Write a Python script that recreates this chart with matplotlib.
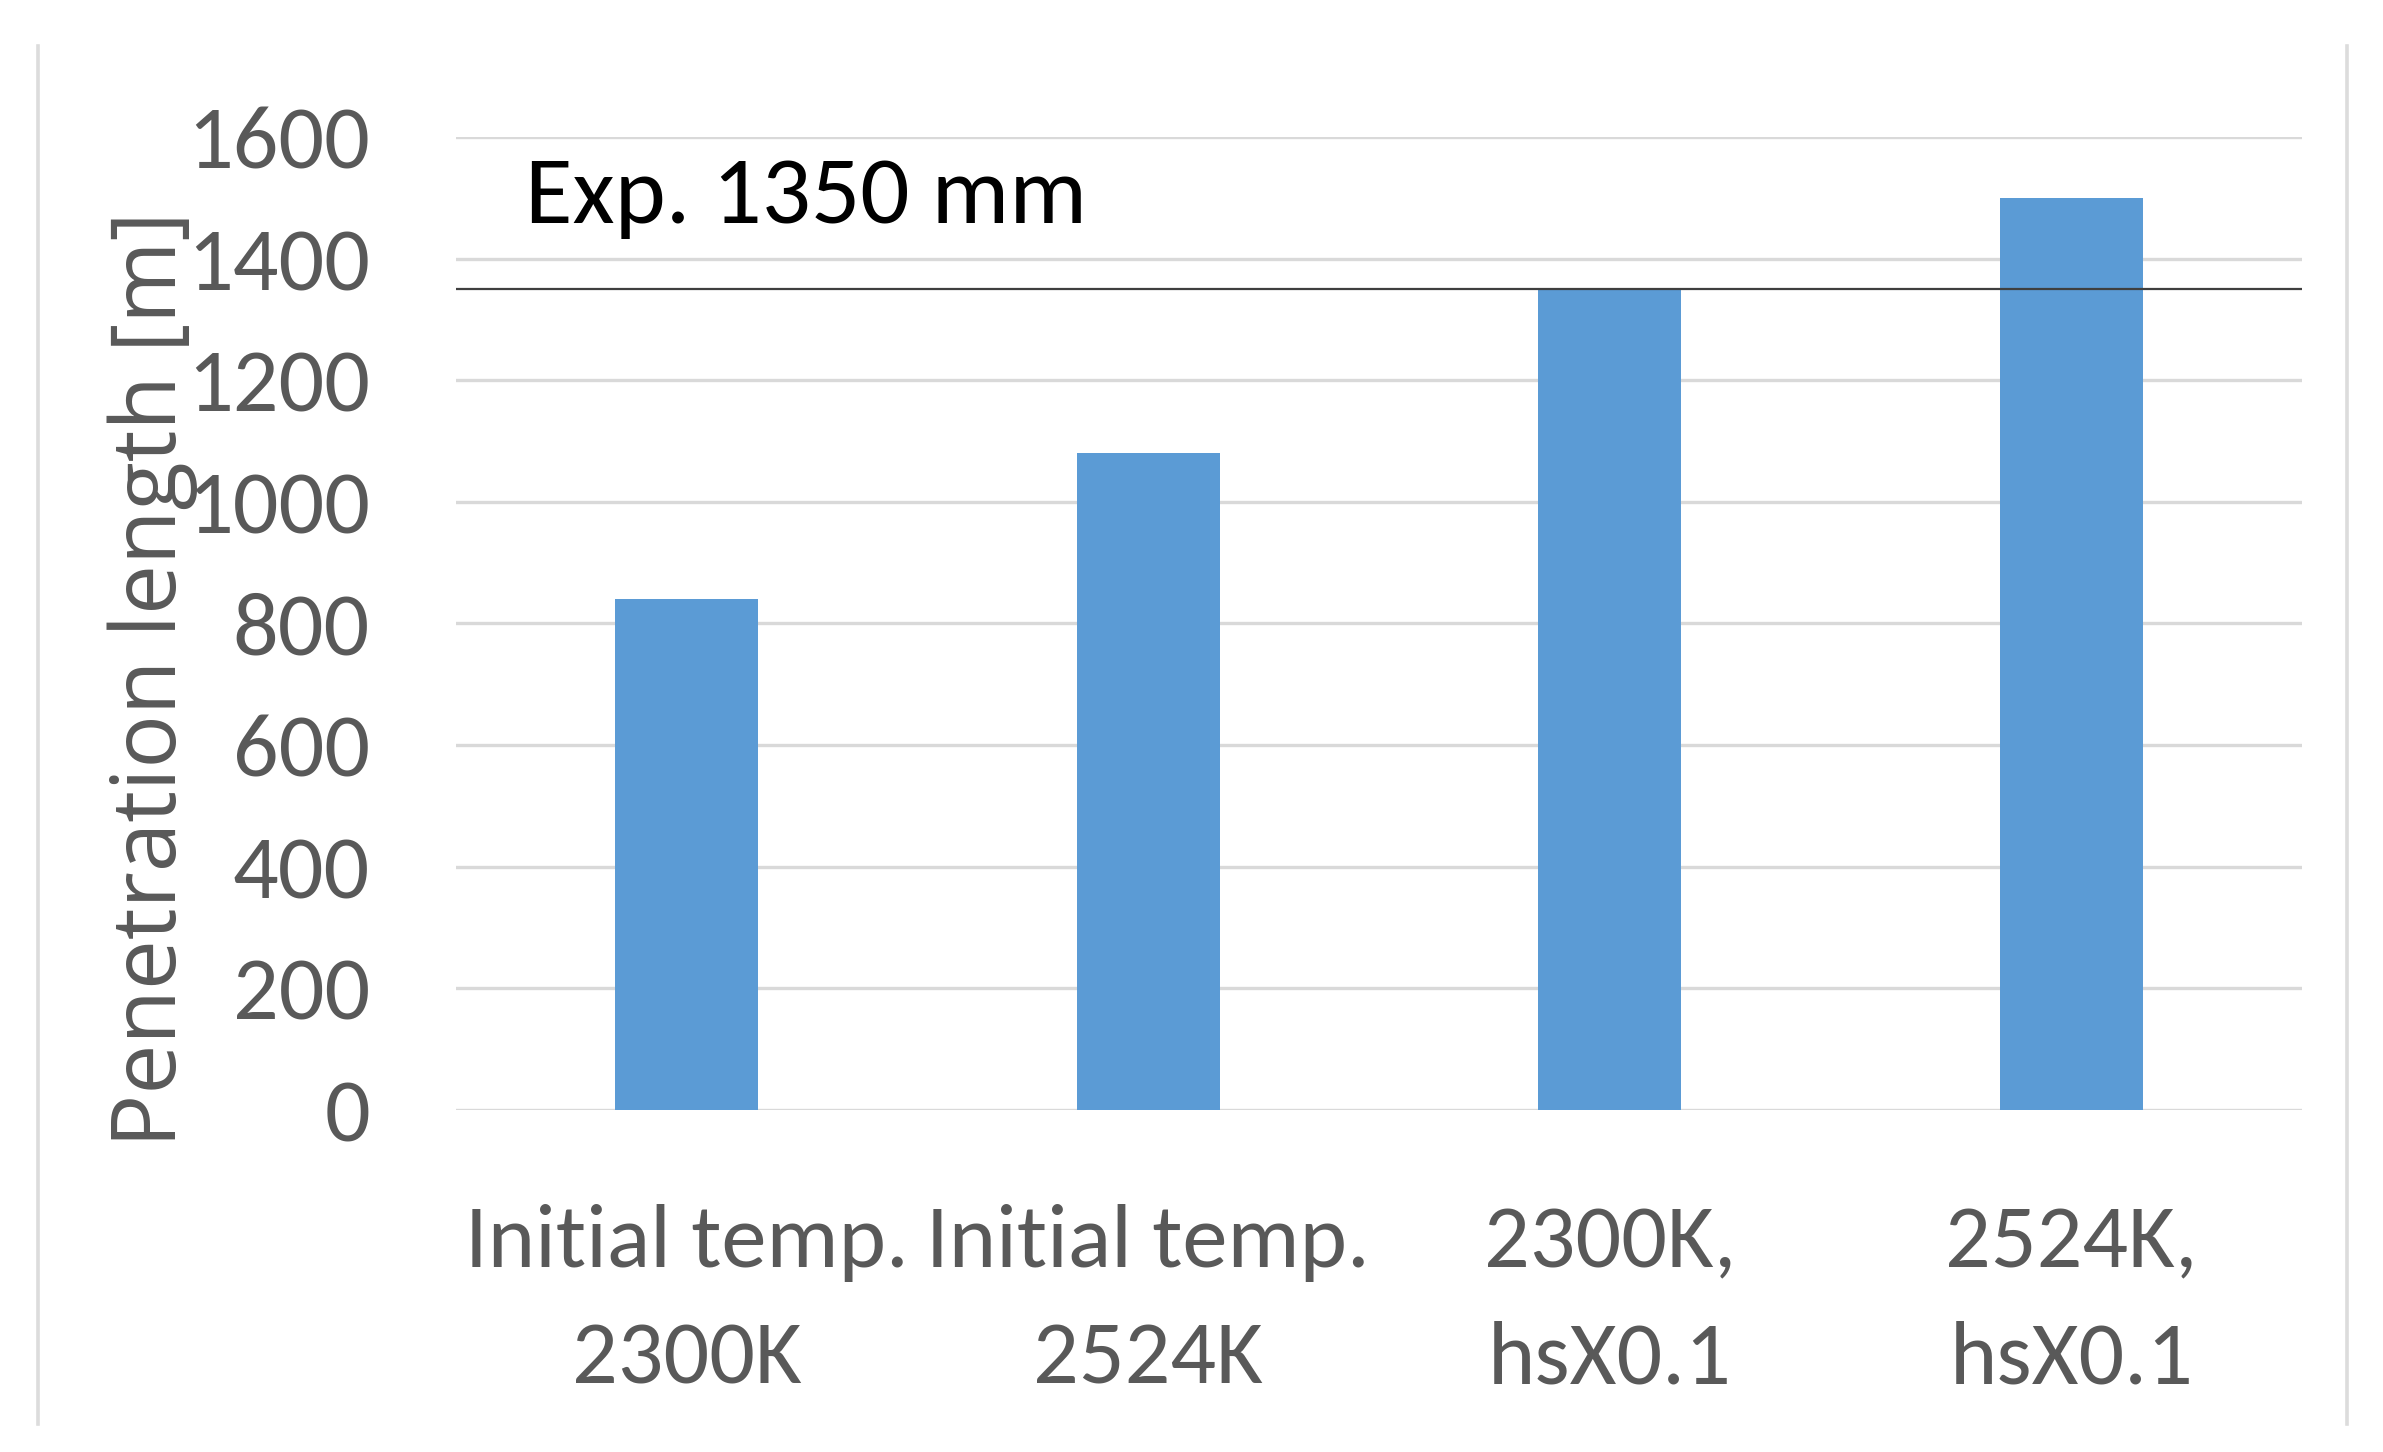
import matplotlib
matplotlib.use("Agg")
import matplotlib.pyplot as plt
from matplotlib.lines import Line2D
import numpy as np

categories = ["Initial temp.\n2300K", "Initial temp.\n2524K", "2300K,\nhsX0.1", "2524K,\nhsX0.1"]
penetration = [840, 1080, 1350, 1500]
exp_value = 1350
yticks = [0, 200, 400, 600, 800, 1000, 1200, 1400, 1600]

CAL = ["Carlito", "Archivo Narrow", "DejaVu Sans"]
GRAY = "#595959"

fig = plt.figure(figsize=(23.83, 14.52), dpi=100)
ax = fig.add_axes([0.1914, 0.2355, 0.7746, 0.6702])

x = np.arange(len(categories))
ax.bar(x, penetration, width=0.31, color="#5B9BD5", zorder=3)
ax.axhline(exp_value, color="#3f3f3f", lw=1.6, zorder=4)
ax.text(-0.35, 1500, f"Exp. {exp_value} mm", fontsize=70, family=CAL, color="black",
        ha="left", va="center")

ax.set_xlim(-0.5, 3.5); ax.set_ylim(0, 1600)
ax.set_yticks(yticks)
ax.set_yticklabels([str(v) for v in yticks], family=CAL, fontsize=65, color=GRAY)
ax.set_xticks(x)
ax.set_xticklabels(categories, family=CAL, fontsize=65, color=GRAY, linespacing=1.6)
ax.tick_params(axis="y", length=0, pad=62)
ax.tick_params(axis="x", length=0, pad=68)
ax.grid(axis="y", color="#d9d9d9", lw=2.4, zorder=0)
for sp in ax.spines.values(): sp.set_visible(False)

fig.text(0.064, 0.532, "Penetration length [m]", rotation=90, ha="center", va="center",
         fontsize=64, family=["Open Sans", "DejaVu Sans"], color=GRAY)

# thin frame lines at the left and right edges
for xf in (0.016, 0.985):
    fig.add_artist(Line2D([xf, xf], [0.019, 0.968], color="#dcdcdc", lw=2.6))

fig.savefig("out.png", dpi=100)
